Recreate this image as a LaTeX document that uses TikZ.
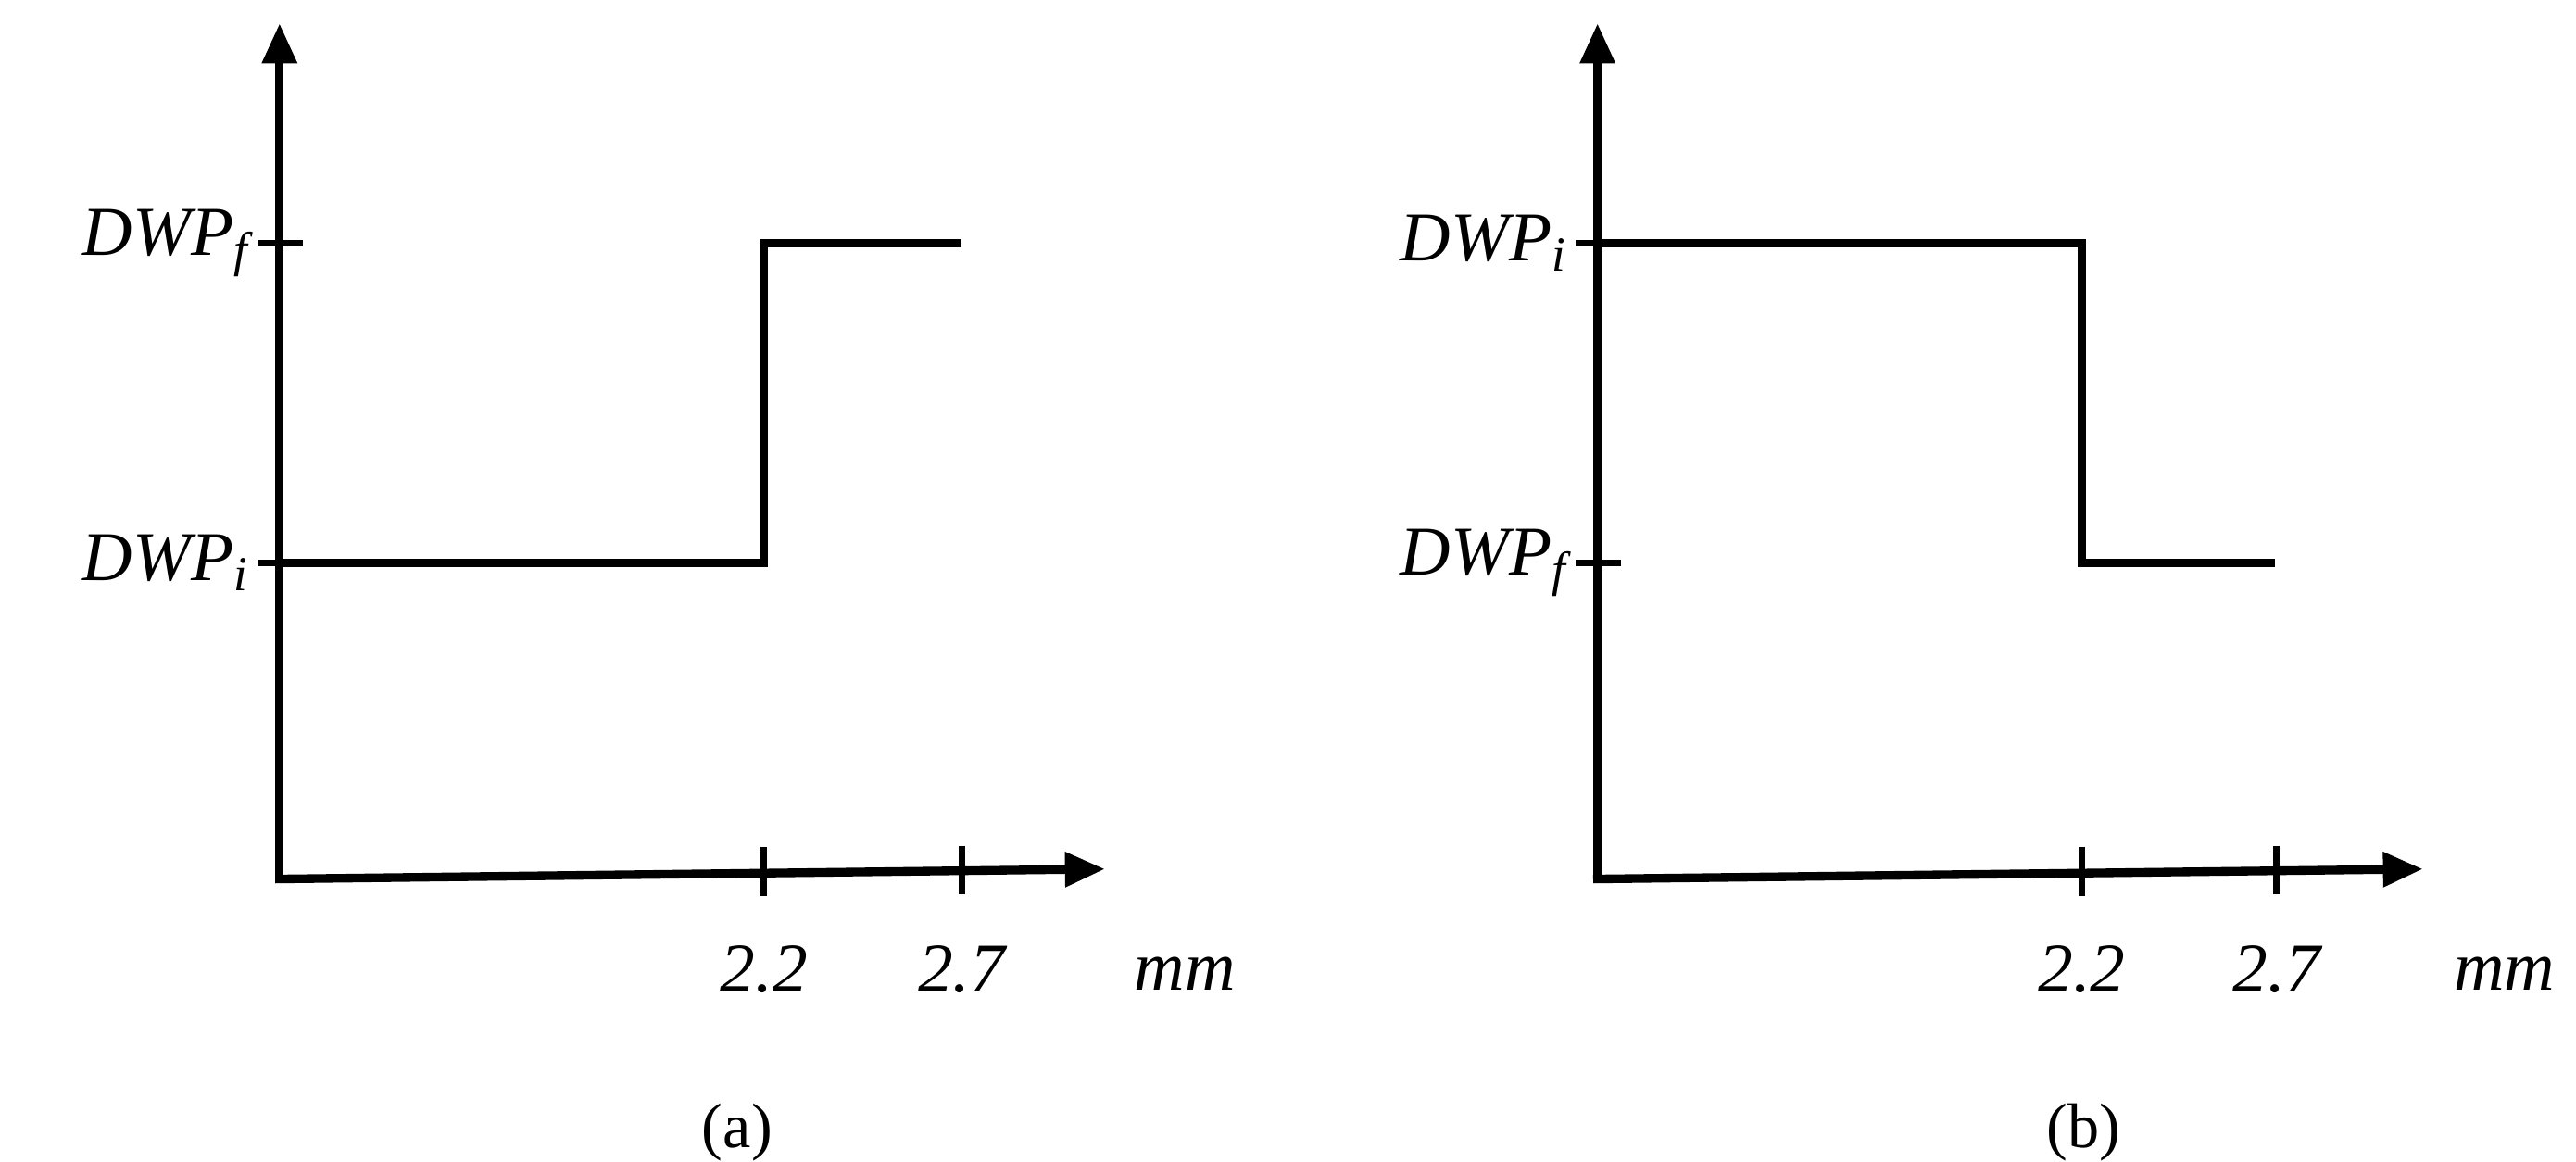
\documentclass[tikz,border=0pt]{standalone}
\usepackage{fontspec}
\setmainfont{Liberation Serif}
\usetikzlibrary{arrows.meta}
\begin{document}
\begin{tikzpicture}[x=0.5pt,y=-0.5pt,
  ax/.style={line width=2.6pt,-{Triangle[length=12pt,width=10pt]}},
  ln/.style={line width=2.6pt},
  tk/.style={line width=2pt},
  lab/.style={font=\fontsize{21}{24}\selectfont\itshape,inner sep=0pt},
  captxt/.style={font=\fontsize{19}{22}\selectfont,inner sep=0pt}]
\useasboundingbox (0,0) rectangle (1548,698);
% panel a
\coordinate (oa) at (168,528);
\coordinate (ya) at (168,14);
\coordinate (xa) at (664,522);
\draw[ax] (oa) -- (ya);
\draw[ax] ([xshift=-1.3pt]oa) -- (xa);
\draw[tk] (155,146) -- (182,146);
\draw[tk] (155,338) -- (182,338);
\draw[tk] (459,509) -- (459,538);
\draw[tk] (578,508) -- (578,537);
\draw[ln] (168,338) -- (459,338) -- (459,146) -- (578,146);
\node[lab,anchor=east] (fa) at (150,146) {DWP\textsubscript{\itshape f}};
\node[lab,anchor=east] (ia) at (150,338) {DWP\textsubscript{\itshape i}};
\node[lab] (a22) at (459,582) {2.2};
\node[lab] (a27) at (578,582) {2.7};
\node[lab] (amm) at (712,585) {mm};
\node[captxt] (ca) at (443,680) {(a)};
% panel b
\coordinate (ob) at (960,528);
\coordinate (yb) at (960,14);
\coordinate (xb) at (1456,522);
\draw[ax] (ob) -- (yb);
\draw[ax] ([xshift=-1.3pt]ob) -- (xb);
\draw[tk] (947,146) -- (974,146);
\draw[tk] (947,338) -- (974,338);
\draw[tk] (1251,509) -- (1251,538);
\draw[tk] (1368,508) -- (1368,537);
\draw[ln] (960,146) -- (1251,146) -- (1251,338) -- (1367,338);
\node[lab,anchor=east] (ib) at (942,146) {DWP\textsubscript{\itshape i}};
\node[lab,anchor=east] (fb) at (942,338) {DWP\textsubscript{\itshape f}};
\node[lab] (b22) at (1251,582) {2.2};
\node[lab] (b27) at (1368,582) {2.7};
\node[lab] (bmm) at (1505,585) {mm};
\node[captxt] (cb) at (1252,680) {(b)};
\end{tikzpicture}
\end{document}
